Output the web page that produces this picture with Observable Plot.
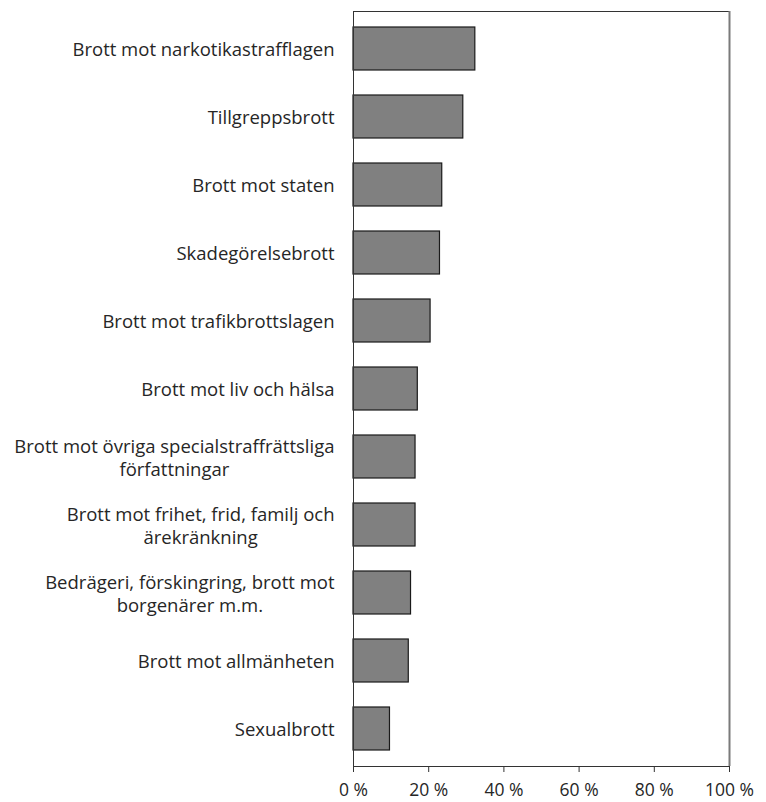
<!DOCTYPE html>
<html>
<head>
<meta charset="utf-8">
<script src="https://cdn.jsdelivr.net/npm/d3@7"></script>
<script src="https://cdn.jsdelivr.net/npm/@observablehq/plot@0.6"></script>
<style>
  html, body { margin: 0; padding: 0; background: #fff; }
  #chart svg { display: block; }
</style>
</head>
<body>
<div id="chart"></div>
<script>
const categories = [
  "Brott mot narkotikastrafflagen",
  "Tillgreppsbrott",
  "Brott mot staten",
  "Skadegörelsebrott",
  "Brott mot trafikbrottslagen",
  "Brott mot liv och hälsa",
  "Brott mot övriga specialstraffrättsliga\nförfattningar",
  "Brott mot frihet, frid, familj och\närekränkning",
  "Bedrägeri, förskingring, brott mot\nborgenärer m.m.",
  "Brott mot allmänheten",
  "Sexualbrott"
];
const values = [32.4, 29.2, 23.6, 23.0, 20.5, 17.1, 16.5, 16.5, 15.3, 14.7, 9.7];
const xTicks = [0, 20, 40, 60, 80, 100];

const data = categories.map((c, i) => ({category: c, value: values[i]}));

const fontFamily = "'Open Sans', sans-serif";
const textColor = "#262626";

const svg = Plot.plot({
  width: 766,
  height: 802,
  marginLeft: 353,
  marginRight: 37,
  marginTop: 11,
  marginBottom: 36,
  style: {fontFamily, fontSize: "18px", color: textColor, background: "#fff"},
  x: {domain: [0, 100], ticks: xTicks},
  y: {domain: categories, paddingInner: 0.37, paddingOuter: 0.185},
  marks: [
    Plot.barX(data, {x: "value", y: "category", fill: "#808080", stroke: "#1a1a1a", strokeWidth: 1.2}),
    Plot.frame({stroke: "#333333", strokeWidth: 1}),
    Plot.ruleX([100], {stroke: "#7a7a7a", strokeWidth: 2}),
    Plot.axisX({ticks: xTicks, tickSize: 6, tickPadding: 11, tickFormat: d => d + " %", stroke: "#333333", fill: textColor, fontSize: 17.5, label: null}),
    Plot.axisY({tickSize: 0, tickPadding: 19, fill: textColor, fontSize: 18.5, lineHeight: 1.25, label: null})
  ]
});

document.getElementById("chart").appendChild(svg);

// center each line of multi-line y labels within its block (block right-aligned)
svg.querySelectorAll('g[aria-label="y-axis tick label"] text').forEach(t => {
  const spans = t.querySelectorAll("tspan");
  if (spans.length > 1) {
    let w = 0;
    spans.forEach(s => { w = Math.max(w, s.getComputedTextLength()); });
    t.setAttribute("text-anchor", "middle");
    t.style.textAnchor = "middle";
    spans.forEach(s => s.setAttribute("x", (-w / 2).toFixed(2)));
  }
});
</script>
</body>
</html>
